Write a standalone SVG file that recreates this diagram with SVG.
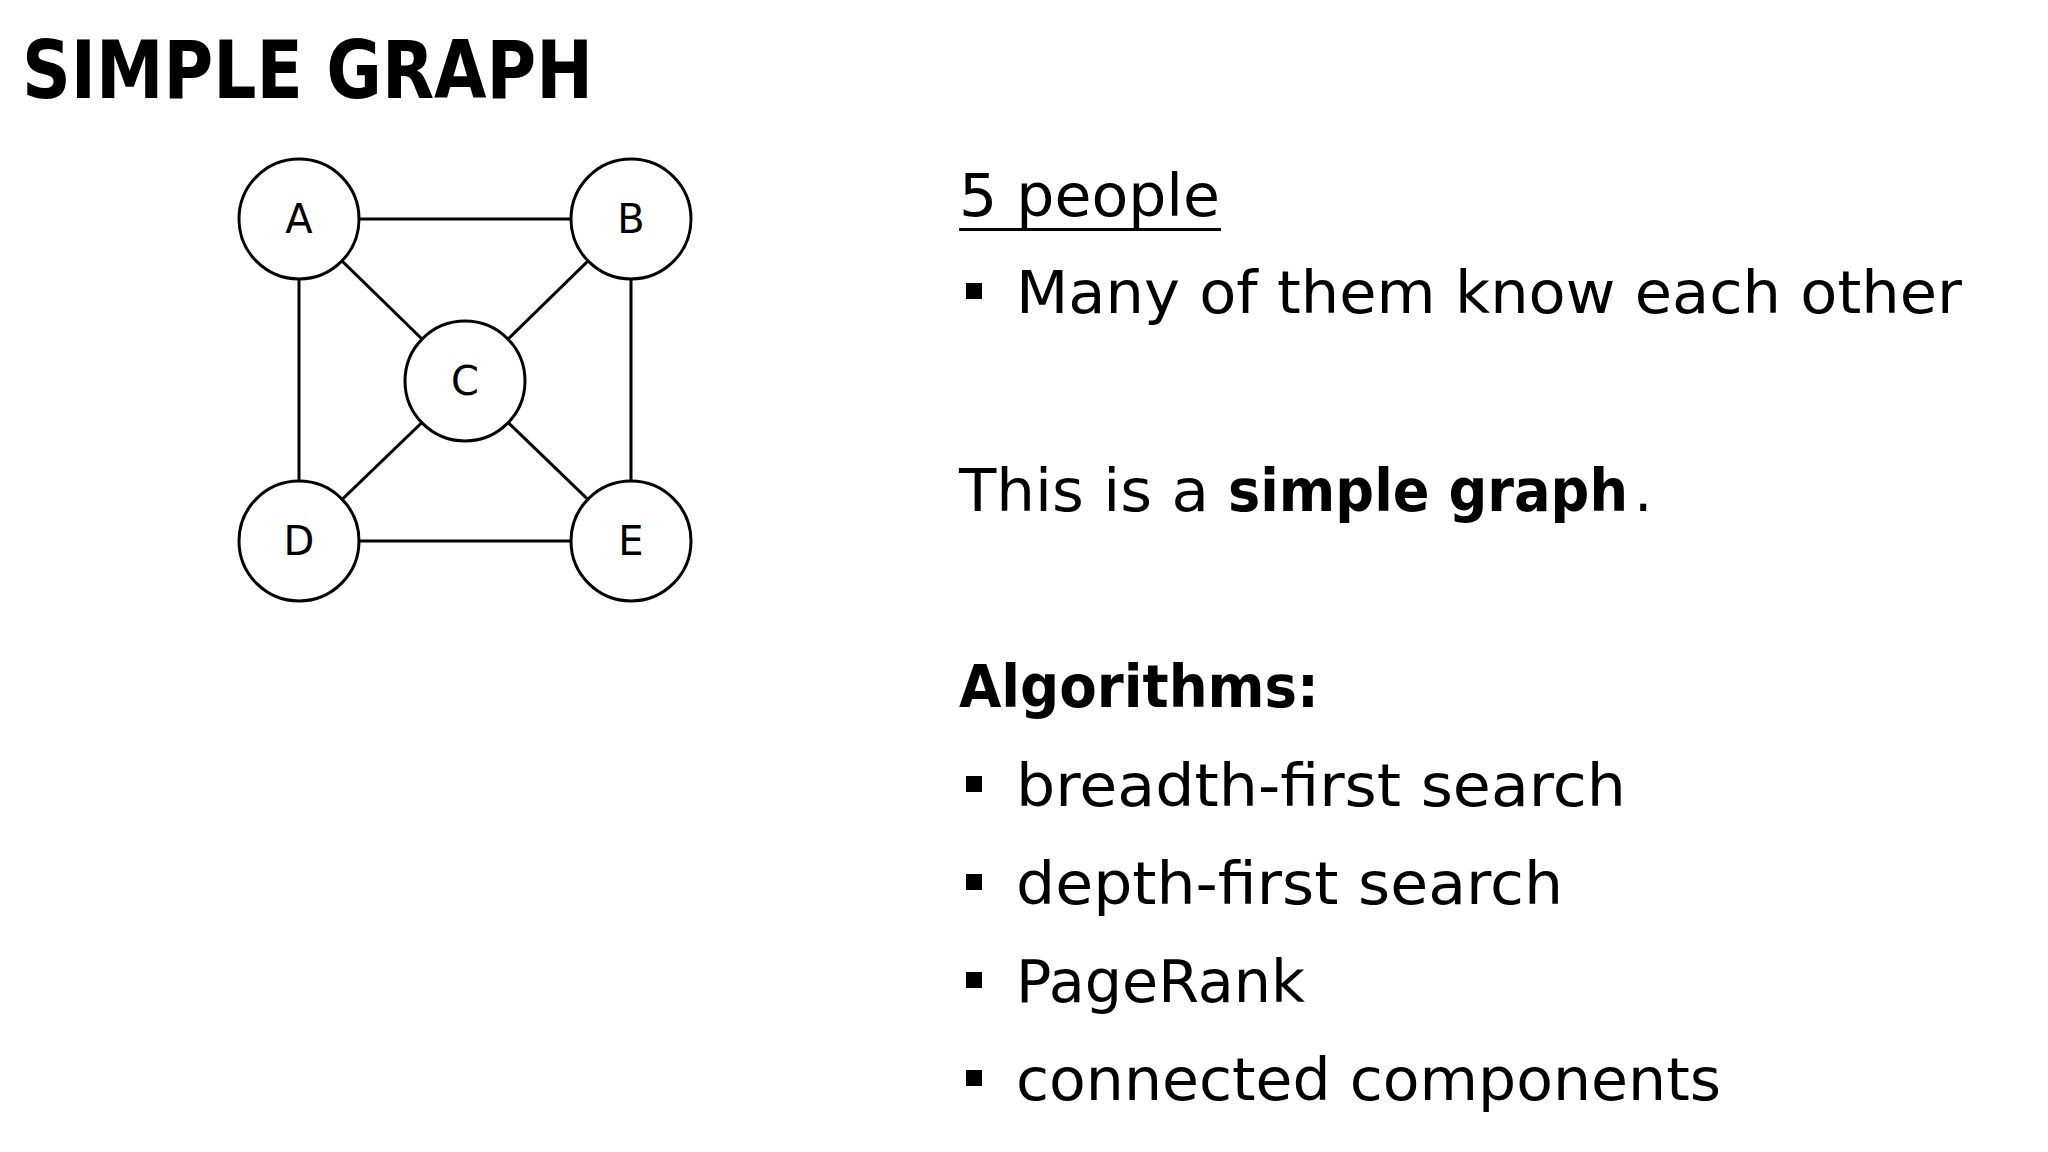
<svg xmlns="http://www.w3.org/2000/svg" width="2048" height="1152" viewBox="0 0 2048 1152">
<style>
text{font-family:"DejaVu Sans","Liberation Sans",sans-serif;fill:#000}
.n{fill:#fff;stroke:#000;stroke-width:3}
.e{stroke:#000;stroke-width:3}
.l{font-size:40px;text-anchor:middle}
.t{font-size:58px}
</style>
<rect width="2048" height="1152" fill="#fff"/>
<text x="22" y="98" font-size="80" font-weight="bold" textLength="571" lengthAdjust="spacingAndGlyphs">SIMPLE GRAPH</text>
<g id="connectors">
<line class="e" x1="299" y1="219" x2="631" y2="219"/>
<line class="e" x1="299" y1="219" x2="299" y2="541"/>
<line class="e" x1="631" y1="219" x2="631" y2="541"/>
<line class="e" x1="299" y1="541" x2="631" y2="541"/>
<line class="e" x1="299" y1="219" x2="465" y2="381"/>
<line class="e" x1="631" y1="219" x2="465" y2="381"/>
<line class="e" x1="299" y1="541" x2="465" y2="381"/>
<line class="e" x1="631" y1="541" x2="465" y2="381"/>
</g>
<g id="A"><circle class="n" cx="299" cy="219" r="60"/><text class="l" x="299" y="233">A</text></g>
<g id="B"><circle class="n" cx="631" cy="219" r="60"/><text class="l" x="631" y="233">B</text></g>
<g id="C"><circle class="n" cx="465" cy="381" r="60"/><text class="l" x="465" y="395">C</text></g>
<g id="D"><circle class="n" cx="299" cy="541" r="60"/><text class="l" x="299" y="555">D</text></g>
<g id="E"><circle class="n" cx="631" cy="541" r="60"/><text class="l" x="631" y="555">E</text></g>
<text class="t" x="959" y="216" textLength="261" lengthAdjust="spacingAndGlyphs">5 people</text>
<rect x="959" y="228" width="262" height="3"/>
<rect x="966" y="283" width="16" height="16"/>
<text class="t" x="1016" y="313" textLength="946" lengthAdjust="spacingAndGlyphs">Many of them know each other</text>
<text class="t" x="959" y="511" textLength="250" lengthAdjust="spacingAndGlyphs">This is a</text>
<text class="t" x="1228" y="511" font-weight="bold" textLength="400" lengthAdjust="spacingAndGlyphs">simple graph</text>
<text class="t" x="1634" y="511">.</text>
<text class="t" x="959" y="707" font-weight="bold" textLength="360" lengthAdjust="spacingAndGlyphs">Algorithms:</text>
<rect x="966" y="776" width="16" height="16"/>
<text class="t" x="1016" y="806" textLength="610" lengthAdjust="spacingAndGlyphs">breadth-first search</text>
<rect x="966" y="874" width="16" height="16"/>
<text class="t" x="1016" y="904" textLength="547" lengthAdjust="spacingAndGlyphs">depth-first search</text>
<rect x="966" y="972" width="16" height="16"/>
<text class="t" x="1016" y="1002" textLength="289" lengthAdjust="spacingAndGlyphs">PageRank</text>
<rect x="966" y="1070" width="16" height="16"/>
<text class="t" x="1016" y="1100" textLength="705" lengthAdjust="spacingAndGlyphs">connected components</text>
</svg>
